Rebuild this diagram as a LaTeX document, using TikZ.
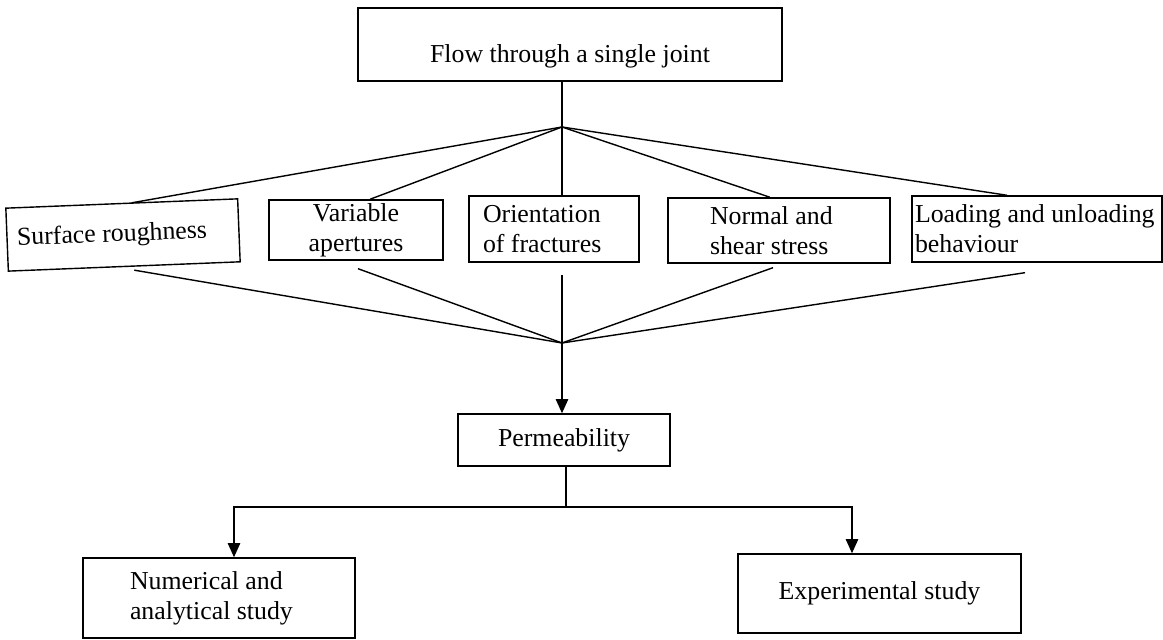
\documentclass[tikz,border=0pt]{standalone}
\usepackage{fontspec}
\setmainfont{Liberation Serif}
\usetikzlibrary{arrows.meta}

\begin{document}
\begin{tikzpicture}[auto, >={Triangle[length=8pt,width=7pt]}, line width=0.8pt,
    box/.style={draw, rectangle, inner sep=0pt, font=\fontsize{14.7}{17}\selectfont}]
    \useasboundingbox (0.00, 0.00) rectangle (23.26, 12.80);
    \node[box, minimum width=8.48cm, minimum height=1.46cm, text height=24pt, text depth=3.5pt] (a) at (11.40, 11.91) {Flow through a single joint};
    \coordinate (j) at (11.24, 10.26);
    \node[box, rotate=2.3, minimum width=4.64cm, minimum height=1.26cm, inner xsep=0.2cm, text width=4.24cm, align=flush left] (b) at (2.46, 8.10) {Surface roughness};
    \node[box, minimum width=3.48cm, minimum height=1.20cm, align=center] (c) at (7.12, 8.20) {Variable\\apertures};
    \node[box, minimum width=3.40cm, minimum height=1.32cm, inner xsep=0.28cm, text width=2.84cm, align=flush left] (d) at (11.08, 8.22) {Orientation\\of fractures};
    \node[box, minimum width=4.44cm, minimum height=1.30cm, inner xsep=0.84cm, text width=2.76cm, align=flush left] (e) at (15.58, 8.19) {Normal and\\shear stress};
    \node[box, minimum width=5.00cm, minimum height=1.32cm, inner xsep=0.06cm, text width=4.88cm, align=flush left] (f) at (20.74, 8.22) {Loading and unloading\\behaviour};
    \draw (j |- a.south) -- (j);
    \draw (j) -- ([xshift=0.20cm]b.north);
    \draw (j) -- ([xshift=0.28cm]c.north);
    \draw (j) -- (j |- d.north);
    \draw (j) -- ([xshift=-0.18cm]e.north);
    \draw (j) -- ([xshift=-0.60cm]f.north);
    \coordinate (k) at (11.24, 5.94);
    \coordinate (l) at (11.24, 7.30);
    \draw ([xshift=0.20cm, yshift=-0.06cm]b.south) -- (k);
    \draw ([xshift=0.04cm, yshift=-0.16cm]c.south) -- (k);
    \draw (l) -- (k);
    \draw ([xshift=-0.12cm, yshift=-0.08cm]e.south) -- (k);
    \draw ([xshift=-0.24cm, yshift=-0.20cm]f.south) -- (k);
    \node[box, minimum width=4.24cm, minimum height=1.04cm] (g) at (11.28, 4.00) {Permeability};
    \draw [->] (k) -- (k |- g.north);
    \coordinate (m) at (11.32, 2.66);
    \node[box, minimum width=5.44cm, minimum height=1.60cm, inner xsep=0.94cm, text width=3.56cm, align=flush left] (h) at (4.38, 0.84) {Numerical and\\analytical study};
    \node[box, minimum width=5.66cm, minimum height=1.58cm] (i) at (17.59, 0.93) {Experimental study};
    \draw (m |- g.south) -- (m);
    \draw [->] (m) -| ([xshift=0.30cm]h.north);
    \draw [->] (m) -| ([xshift=-0.55cm]i.north);
\end{tikzpicture}
\end{document}
